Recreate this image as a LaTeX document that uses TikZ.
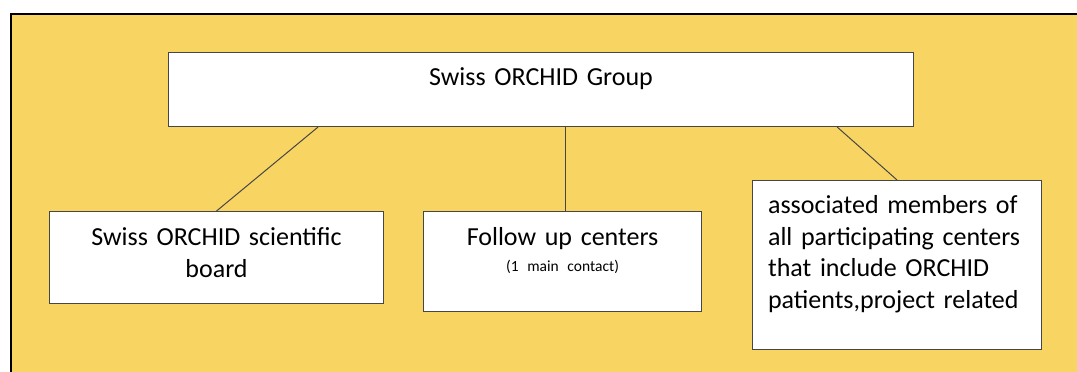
\documentclass[tikz,border=0pt]{standalone}
\usepackage{fontspec}
\setmainfont[WordSpace=0.75]{Carlito}
\usetikzlibrary{calc}
\definecolor{orchidyellow}{RGB}{248,213,98}
\definecolor{boxgray}{RGB}{70,70,70}
\tikzset{
  orgbox/.style={draw=boxgray, line width=1.1pt, fill=white, anchor=north west,
    inner xsep=0pt, inner ysep=0pt, align=center,
    font=\fontsize{26}{31.5}\selectfont},
  link/.style={draw=boxgray, line width=1pt}
}
\begin{document}
\begin{tikzpicture}[x=1pt,y=-1pt]
      \useasboundingbox (0,0) rectangle (1077,372);
      \clip (0,0) rectangle (1077,372);
      \draw[fill=orchidyellow, line width=2pt] (11,14) rectangle (1100,400);

      \node (grp) at (168,52) [orgbox, text width=745pt, text height=33pt, text depth=41pt]
          {Swiss ORCHID Group};
      \node (sci) at (49,211) [orgbox, text width=334pt, text height=34pt, text depth=58pt]
          {Swiss ORCHID scientific\\board};
      \node (fol) at (423,211) [orgbox, text width=278pt, text height=34pt, text depth=66pt]
          {Follow up centers\\[-5.5pt]{\fontsize{15.5}{18}\selectfont (1 main contact)}};
      \node (asc) at (752,180) [orgbox, inner xsep=15.5pt, text width=258pt, align=left,
          text height=33pt, text depth=136pt]
          {associated members of\\all participating centers\\that include ORCHID\\patients,project related};

      % attachment points under the group box
      \coordinate (grp-l) at ($(grp.south west)!.201!(grp.south east)$);
      \coordinate (grp-m) at ($(grp.south west)!.533!(grp.south east)$);
      \coordinate (grp-r) at ($(grp.south west)!.897!(grp.south east)$);

      \draw[link] (grp-l)--(sci.north);
      \draw[link] (grp-m)--(grp-m |- fol.north);
      \draw[link] (grp-r)--(asc.north);
\end{tikzpicture}
\end{document}
